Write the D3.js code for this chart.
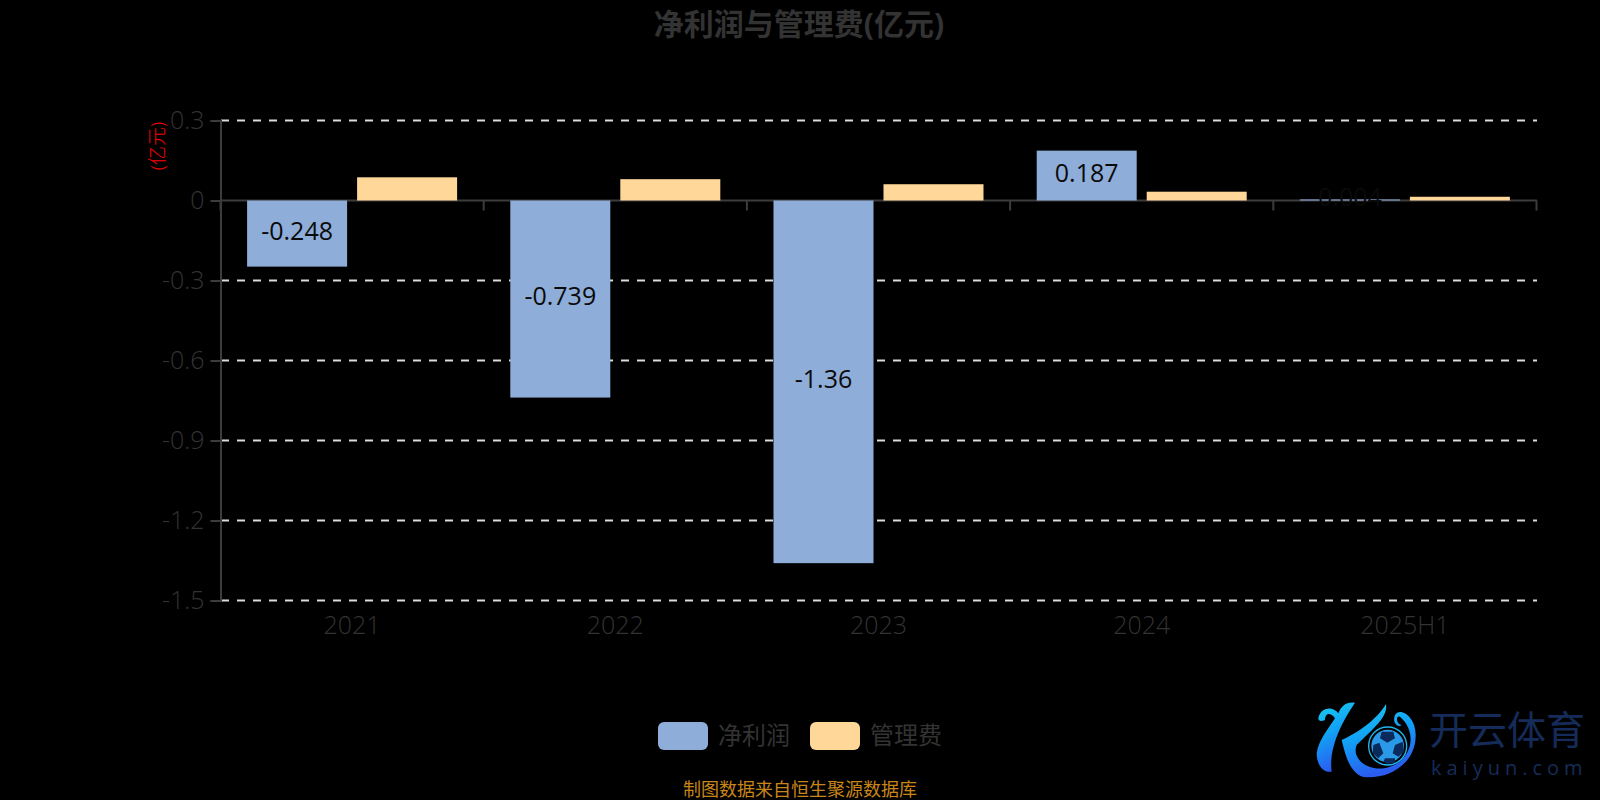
<!DOCTYPE html>
<html><head><meta charset="utf-8">
<script src="https://cdn.jsdelivr.net/npm/d3@7/dist/d3.min.js"></script>
<style>html,body{margin:0;background:#000;overflow:hidden}svg{display:block}text{font-family:"Open Sans","Noto Sans CJK SC",sans-serif}</style>
</head><body><svg id="c" width="1600" height="800"></svg>
<script>
const categories=["2021","2022","2023","2024","2025H1"];
const netProfit=[-0.248,-0.739,-1.36,0.187,0.004];
const netProfitLabels=["-0.248","-0.739","-1.36","0.187","0.004"];
const adminFee=[0.087,0.08,0.061,0.033,0.014];
const yTicks=[0.3,0,-0.3,-0.6,-0.9,-1.2,-1.5];
const yTickLabels=["0.3","0","-0.3","-0.6","-0.9","-1.2","-1.5"];
const seriesNames=["净利润","管理费"];
const seriesColors=["#8eadd9","#ffd899"];
const title="净利润与管理费(亿元)", unit="(亿元)", source="制图数据来自恒生聚源数据库";

const svg=d3.select("#c");
const x=d3.scaleBand().domain(categories).range([220.5,1536.5]);
const y=d3.scaleLinear().domain([-1.5,0.3]).range([600.5,120.5]);
const barW=100,gap=10;
const ax="#3c3c3c",txt="#333";

svg.append("text").attr("x",799).attr("y",35).attr("text-anchor","middle").attr("font-size",30).attr("font-weight",700).attr("fill",txt).text(title);

// grid
svg.append("g").selectAll("line").data(yTicks.filter(d=>d!==0)).join("line")
 .attr("x1",221).attr("x2",1537).attr("y1",d=>y(d)).attr("y2",d=>y(d))
 .attr("stroke","#dcdcdc").attr("stroke-width",2).attr("stroke-dasharray","8 8");

// y axis
const ya=svg.append("g").attr("transform","translate(220.5,0)").call(d3.axisLeft(y).tickValues(yTicks).tickSize(10).tickPadding(6).tickFormat((d,i)=>yTickLabels[i]));
ya.selectAll("path,line").attr("stroke",ax).attr("stroke-width",2);
ya.selectAll("text").attr("fill",txt).attr("font-size",25).attr("font-weight",300).attr("font-family",'"Open Sans"');

// x axis
const xa=svg.append("g").attr("transform",`translate(0,${y(0)-.5})`).call(d3.axisBottom(x).tickValues([]).tickSize(0));
xa.select("path").attr("stroke",ax).attr("stroke-width",2);
svg.append("g").selectAll("line").data([...categories.map(c=>x(c)),1536.5]).join("line")
 .attr("x1",d=>d).attr("x2",d=>d).attr("y1",y(0)).attr("y2",y(0)+10).attr("stroke",ax).attr("stroke-width",2);
svg.append("g").selectAll("text").data(categories).join("text")
 .attr("x",d=>x(d)+x.bandwidth()/2).attr("y",y(-1.5)+33).attr("text-anchor","middle")
 .attr("font-size",25).attr("font-weight",300).attr("fill",txt).text(d=>d);

// bars
const bars=(vals,i)=>svg.append("g").selectAll("rect").data(vals).join("rect")
 .attr("x",(d,j)=>x(categories[j])+x.bandwidth()/2+(i?gap/2:-gap/2-barW))
 .attr("width",barW)
 .attr("y",d=>Math.min(y(d),y(0)))
 .attr("height",d=>Math.abs(y(d)-y(0)))
 .attr("fill",seriesColors[i]);
bars(netProfit,0);bars(adminFee,1);

// labels
svg.append("g").selectAll("text").data(netProfit).join("text")
 .attr("x",(d,j)=>x(categories[j])+x.bandwidth()/2-gap/2-barW/2)
 .attr("y",d=>(y(d)+y(0))/2+6)
 .attr("text-anchor","middle").attr("font-size",25).attr("fill","#0a0a0a")
 .text((d,j)=>netProfitLabels[j]);

// unit
svg.append("text").attr("transform","translate(159,146) rotate(-90)").attr("text-anchor","middle").attr("dominant-baseline","middle")
 .attr("font-size",19).attr("font-weight",300).attr("fill","#f00").text(unit);

// legend
const lx=[658,810];
const lg=svg.append("g").selectAll("g").data(seriesNames).join("g").attr("transform",(d,i)=>`translate(${lx[i]},722)`);
lg.append("rect").attr("width",50).attr("height",28).attr("rx",6).attr("fill",(d,i)=>seriesColors[i]);
lg.append("text").attr("x",60).attr("y",22).attr("font-size",24).attr("fill",txt).text(d=>d);

svg.append("text").attr("x",800).attr("y",796).attr("text-anchor","middle").attr("font-size",18).attr("fill","#c8861a").text(source);

// watermark
const defs=svg.append("defs");
const gr=defs.append("linearGradient").attr("id","kg").attr("x1",0).attr("y1",0).attr("x2",.3).attr("y2",1);
gr.append("stop").attr("offset",0).attr("stop-color","#19d0f0");
gr.append("stop").attr("offset",.5).attr("stop-color","#12a0f5");
gr.append("stop").attr("offset",1).attr("stop-color","#2a5cf0");
const logo=svg.append("g").attr("transform","translate(1300,690) scale(0.3333)");
logo.append("path").attr("fill","url(#kg)").attr("d","M55,85 C60,55 95,45 115,70 C125,45 140,35 165,38 C130,90 85,170 95,245 C70,250 50,225 50,190 C55,150 90,110 105,85 C90,65 75,70 75,90 C65,95 55,95 55,85Z");
logo.append("path").attr("fill","url(#kg)").attr("d","M125,150 C170,130 230,90 258,42 C265,80 220,115 170,165 C150,215 230,265 300,215 C340,180 345,120 300,80 C285,75 290,105 305,105 C295,115 275,100 285,75 C300,50 350,80 347,140 C345,220 270,265 200,262 C150,260 135,190 125,150Z");
logo.append("circle").attr("cx",263).attr("cy",168).attr("r",57).attr("fill","#000").attr("stroke","#1fb8f0").attr("stroke-width",4);
logo.append("circle").attr("cx",263).attr("cy",168).attr("r",49).attr("fill","#2a9ae8");
["M245,125 L280,125 L285,145 L262,158 L240,145Z","M220,165 L238,158 L250,190 L235,205 L218,190Z","M285,165 L308,155 L312,185 L295,200 L278,190Z","M255,205 L285,205 L285,218 L262,222 L250,215Z"]
 .forEach(p=>logo.append("path").attr("d",p).attr("fill","#0b2a5c"));
svg.append("text").attr("x",1429).attr("y",744).attr("font-size",39).attr("fill","#152c5a").text("开云体育");
svg.append("text").attr("x",1431).attr("y",775).attr("font-size",20).attr("letter-spacing",5).attr("fill","#152c5a").text("kaiyun.com");
</script></body></html>
